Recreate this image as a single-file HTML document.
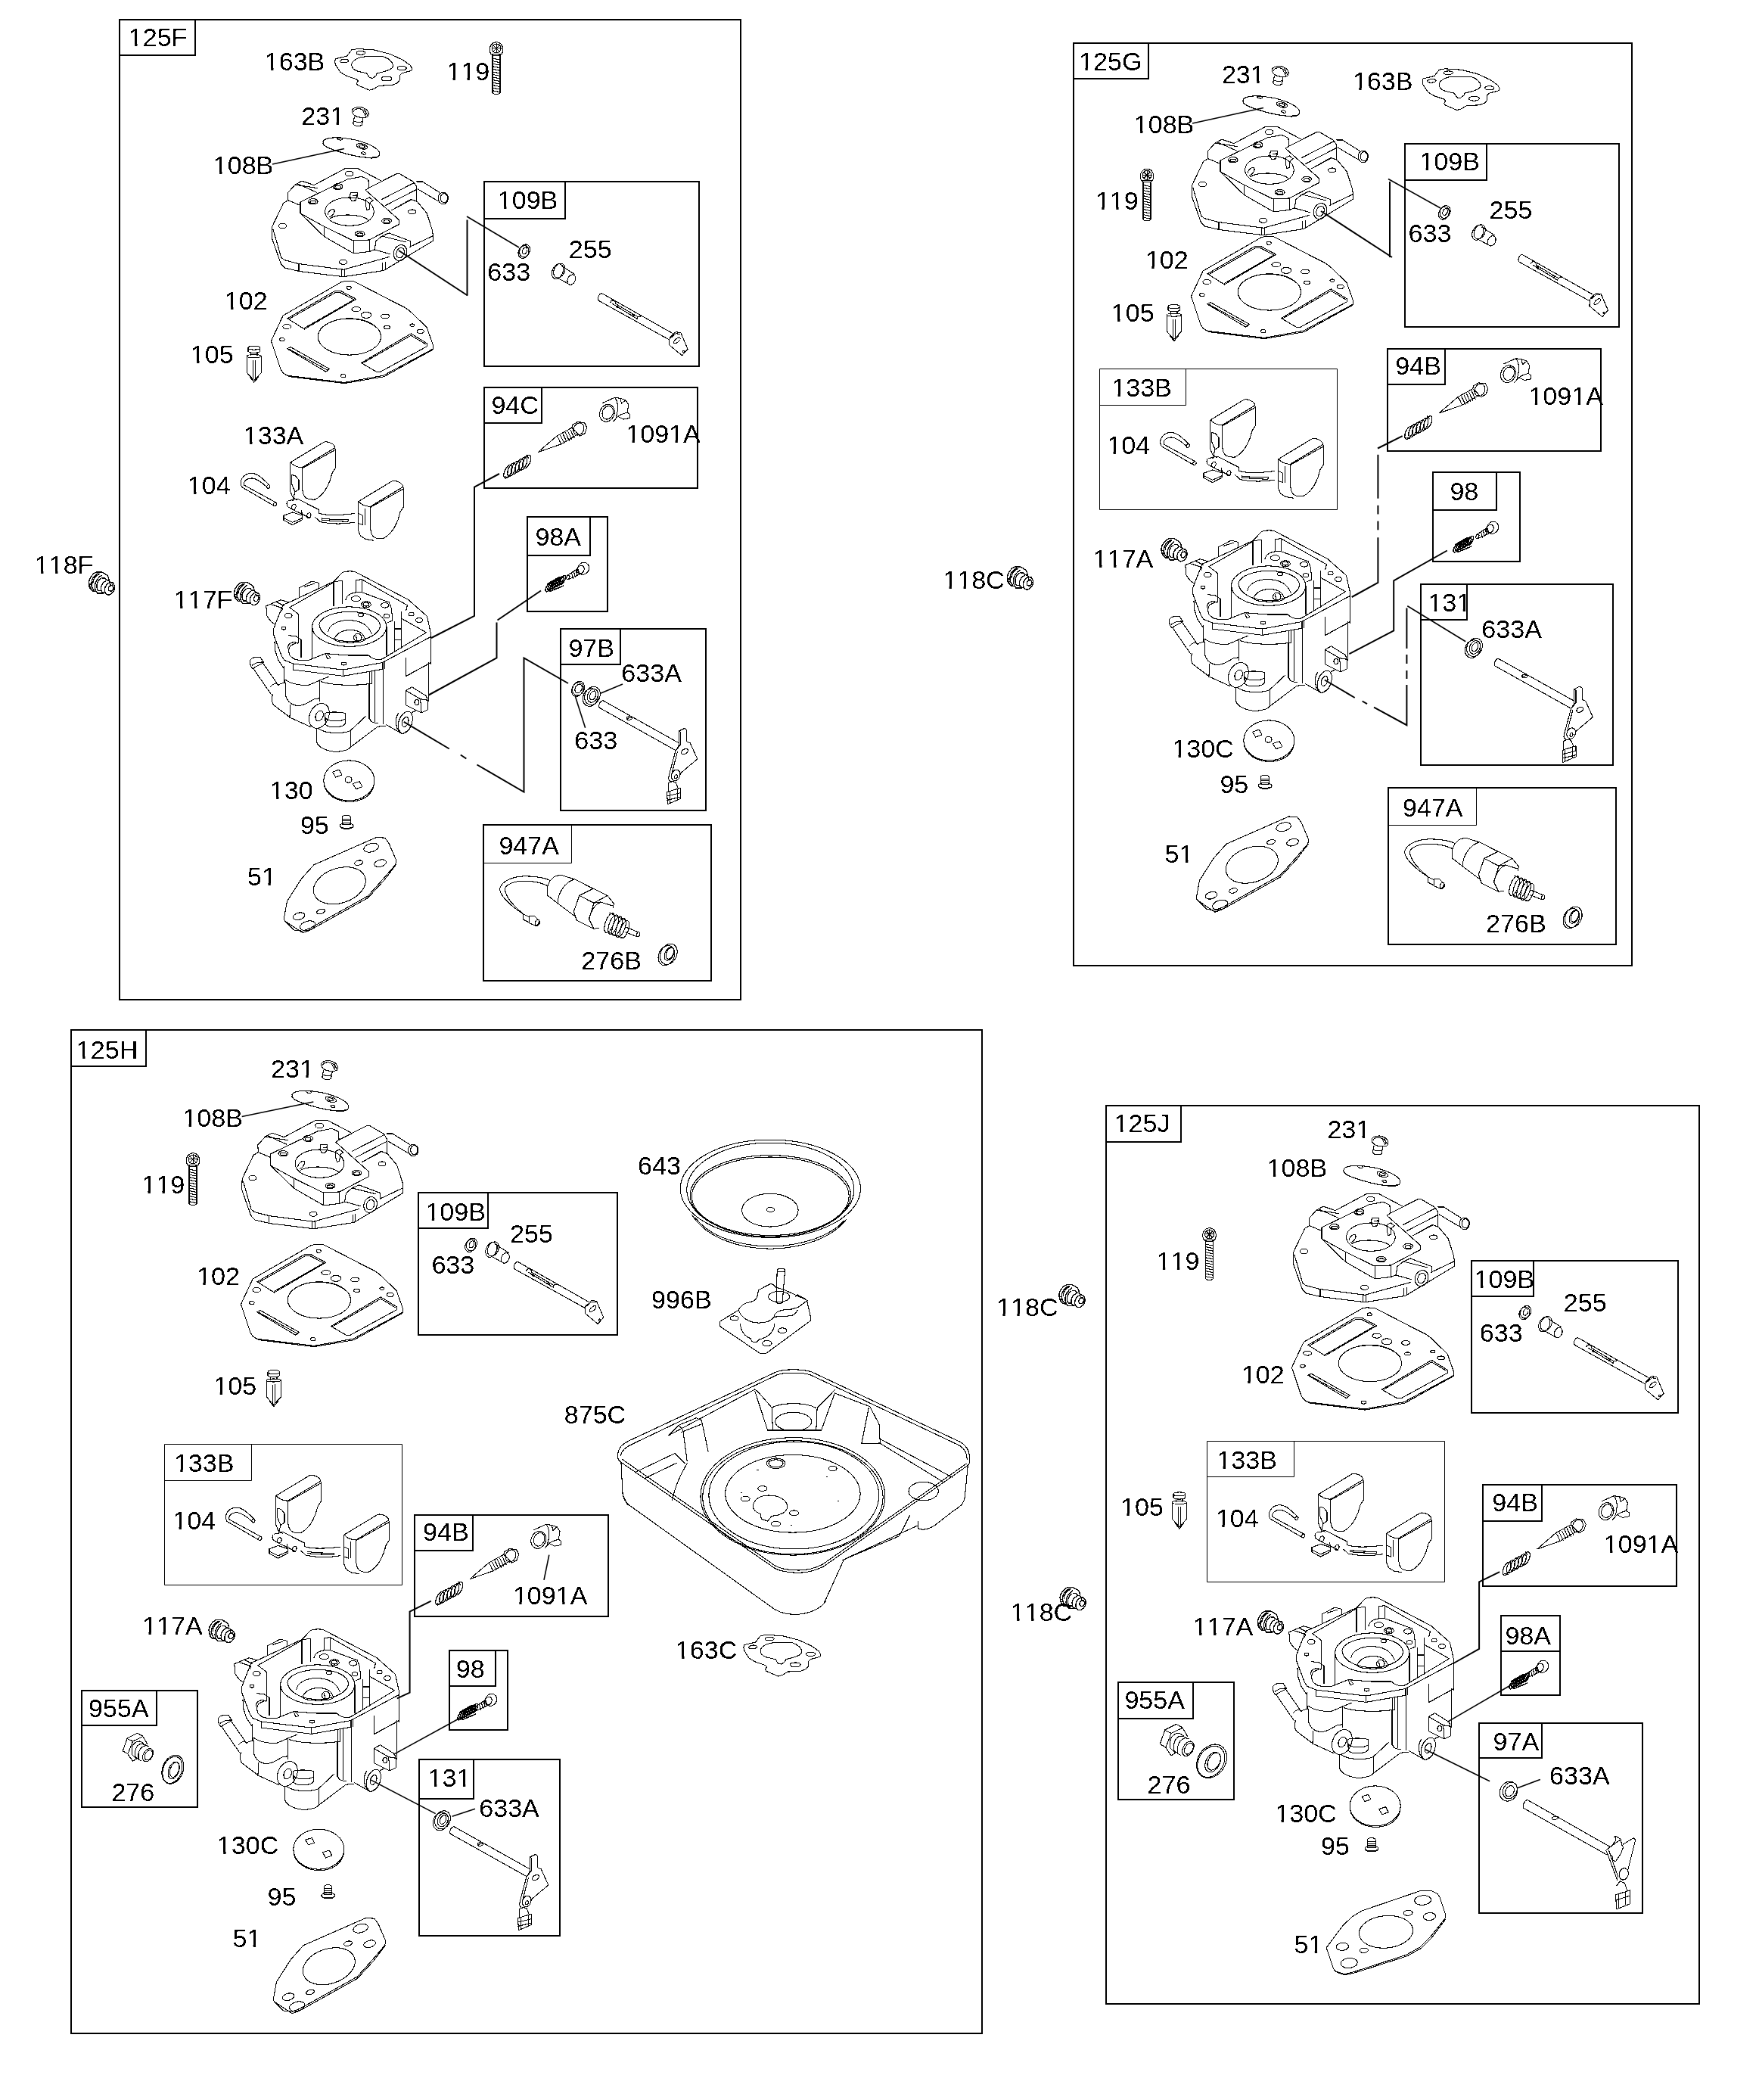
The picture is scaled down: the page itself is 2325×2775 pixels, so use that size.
<!DOCTYPE html><html><head><meta charset="utf-8"><style>html,body{margin:0;padding:0;background:#fff;}svg{display:block;}path,ellipse,circle,polyline,polygon{vector-effect:non-scaling-stroke;}text{font-family:"Liberation Sans",sans-serif;font-size:32.5px;fill:#000;font-kerning:none;}</style></head><body>
<svg width="2325" height="2775" viewBox="0 0 2325 2775">
<rect width="2325" height="2775" fill="#fff"/>
<defs>
<g id="ctop" transform="translate(350,180) scale(0.166583)"><path d="M58,718 L148,530 L185,508 L280,548"/><path d="M1005,588 L1160,500 L1210,520 L1285,610 L1330,748 L1335,790"/><path d="M58,718 L55,805 L128,1012 L160,1045 L275,1072 L625,1115 L945,1065 L1335,830 L1335,790"/><path d="M66,740 L130,962 L155,982 L270,1012 L625,1058 L985,958"/><path d="M1150,878 L1335,790"/><path d="M270,1012 L270,1072 M610,1058 L610,1115 M634,1058 L634,1112 M935,1005 L935,1065 M955,998 L955,1058"/><path d="M390,388 L640,255 L735,255 L920,352"/><path d="M282,522 L655,342 L770,320 L822,345 L826,410 L800,428 L1063,662 L1063,700 L830,822 L700,828 L470,716 L282,612 Z"/><path d="M282,612 L470,795 L470,716 M470,795 L705,930 L705,830 M705,930 L830,915 L830,822 M830,915 L870,900"/><path d="M478,598 C478,530 570,486 672,486 C780,486 866,530 866,598 C866,665 780,710 672,710 C570,710 478,665 478,598 Z"/><path d="M520,650 C570,625 620,622 680,625 C740,628 790,640 820,662"/><path d="M500,620 C505,590 530,575 550,580 C560,600 540,630 515,640"/><path d="M680,445 L735,448 L735,470 L720,510 L690,512 L675,490 Z M700,470 L730,468"/><path d="M800,500 L830,485 L860,510 L835,525 L830,580 L810,585 L800,550 Z"/><path d="M826,410 L1045,298 L1070,298 L1180,362 L1205,400 L1205,515"/><path d="M930,500 L1180,372 M960,548 L1200,425 M1005,588 L1160,505"/><path d="M1205,360 L1250,360 L1385,445 M1215,420 L1370,512"/><ellipse cx="1415" cy="492" rx="40" ry="46" transform="rotate(0 1415 492)"/><ellipse cx="1422" cy="490" rx="28" ry="36" transform="rotate(0 1422 490)"/><path d="M185,508 L182,450 L240,385 L295,355 L390,388 M240,385 L420,412 M262,378 L410,445"/><path d="M870,905 L882,832 L930,792 L985,768 L1155,832 L1155,882"/><path d="M930,792 L1120,840"/><ellipse cx="1075" cy="925" rx="52" ry="64" transform="rotate(20 1075 925)"/><ellipse cx="1075" cy="925" rx="30" ry="42" transform="rotate(20 1075 925)"/><path d="M995,935 L870,900"/><ellipse cx="670" cy="297" rx="32" ry="20" transform="rotate(0 670 297)"/><ellipse cx="580" cy="400" rx="38" ry="24" transform="rotate(0 580 400)"/><ellipse cx="580" cy="404" rx="24" ry="12" transform="rotate(0 580 404)"/><ellipse cx="383" cy="518" rx="38" ry="22" transform="rotate(0 383 518)"/><ellipse cx="383" cy="522" rx="24" ry="11" transform="rotate(0 383 522)"/><ellipse cx="967" cy="672" rx="38" ry="22" transform="rotate(0 967 672)"/><ellipse cx="967" cy="676" rx="24" ry="11" transform="rotate(0 967 676)"/><ellipse cx="755" cy="775" rx="38" ry="22" transform="rotate(0 755 775)"/><ellipse cx="755" cy="779" rx="24" ry="11" transform="rotate(0 755 779)"/><ellipse cx="140" cy="712" rx="30" ry="20" transform="rotate(0 140 712)"/><ellipse cx="1168" cy="600" rx="30" ry="18" transform="rotate(0 1168 600)"/><ellipse cx="622" cy="998" rx="30" ry="18" transform="rotate(0 622 998)"/></g>
<g id="p108" transform="translate(350,180) scale(0.166583)"><path d="M470,30 C520,0 620,10 720,30 C820,55 900,95 910,130 C915,165 880,180 820,172 C700,160 560,120 490,85 C460,70 455,45 470,30 Z"/><path d="M460,55 C470,85 520,100 600,125 C700,158 820,185 905,160"/><ellipse cx="595" cy="20" rx="20" ry="10" transform="rotate(10 595 20)"/><ellipse cx="770" cy="80" rx="45" ry="20" transform="rotate(15 770 80)"/><ellipse cx="770" cy="80" rx="25" ry="10" transform="rotate(15 770 80)"/><ellipse cx="785" cy="135" rx="18" ry="9" transform="rotate(15 785 135)"/></g>
<g id="g102" transform="translate(310,365) scale(0.166583)"><path d="M290,515 L385,312 L850,45 L885,38 L950,42 L1275,210 L1355,250 L1390,275 L1525,405 L1575,545 L1578,575 L1180,788 L870,843 L420,788 L388,770 L365,735 L300,540 Z"/><path d="M372,748 L400,780 L440,797 L870,850 L1185,797 L1578,580"/><path d="M420,335 L795,118 L845,118 L965,182 L555,420 Z"/><path d="M435,338 L800,130 L840,130 L948,186 L556,410"/><path d="M418,575 L445,562 L752,735 L725,758 Z M432,578 L738,745"/><path d="M1005,688 L1400,455 L1530,535 L1530,555 L1160,757 L1125,757 Z M1020,688 L1400,470 L1518,540"/><ellipse cx="912" cy="480" rx="250" ry="145" transform="rotate(0 912 480)"/><path d="M680,420 C750,350 850,335 920,338 C1010,340 1100,370 1150,430"/><ellipse cx="965" cy="262" rx="35" ry="18" transform="rotate(0 965 262)"/><ellipse cx="1045" cy="308" rx="40" ry="24" transform="rotate(0 1045 308)"/><ellipse cx="1195" cy="318" rx="32" ry="17" transform="rotate(0 1195 318)"/><ellipse cx="1210" cy="405" rx="24" ry="12" transform="rotate(0 1210 405)"/><ellipse cx="1410" cy="388" rx="18" ry="10" transform="rotate(0 1410 388)"/><ellipse cx="1475" cy="438" rx="28" ry="15" transform="rotate(0 1475 438)"/><ellipse cx="415" cy="400" rx="32" ry="18" transform="rotate(0 415 400)"/><ellipse cx="377" cy="502" rx="20" ry="12" transform="rotate(0 377 502)"/><ellipse cx="908" cy="92" rx="18" ry="12" transform="rotate(0 908 92)"/><ellipse cx="862" cy="790" rx="20" ry="12" transform="rotate(0 862 790)"/></g>
<g id="n105" transform="translate(310,365) scale(0.166583)"><ellipse cx="155" cy="568" rx="47" ry="15" transform="rotate(0 155 568)"/><path d="M108,568 L108,596 C120,612 190,612 202,596 L202,568"/><path d="M130,606 L130,628 M180,606 L180,628"/><ellipse cx="155" cy="634" rx="57" ry="12" transform="rotate(0 155 634)"/><path d="M98,634 L98,765 L155,828 L213,765 L213,634"/><path d="M145,670 L145,820 M165,670 L165,820 M122,800 L155,842 L190,800"/></g>
<g id="g163" transform="translate(430,50) scale(0.142126)"><path d="M88,222 L95,195 L200,170 L245,112 L300,102 L450,112 L600,150 L720,205 L790,255 L808,290 L800,305 L710,330 L690,350 L690,395 L670,420 L620,440 L500,445 L450,475 L410,487 L300,440 L290,425 L305,400 L290,385 L200,355 L140,320 L95,250 Z"/><path d="M245,255 C240,215 300,180 370,175 L540,175 C600,195 630,230 630,260 C625,290 590,305 480,330 L475,350 L440,375 L410,370 L395,345 L385,330 L300,310 C260,295 245,275 245,255 Z"/><ellipse cx="330" cy="140" rx="42" ry="16" transform="rotate(0 330 140)"/><ellipse cx="175" cy="215" rx="40" ry="16" transform="rotate(-5 175 215)"/><ellipse cx="712" cy="282" rx="42" ry="18" transform="rotate(0 712 282)"/><ellipse cx="570" cy="380" rx="48" ry="20" transform="rotate(0 570 380)"/></g>
<g id="s119" transform="translate(430,50) scale(0.142126)"><path d="M1540,150 C1515,110 1530,45 1590,40 C1650,42 1665,110 1640,150 C1620,170 1560,170 1540,150 Z"/><ellipse cx="1591" cy="98" rx="42" ry="42" transform="rotate(0 1591 98)"/><path d="M1591,56 L1591,140 M1549,98 L1633,98 M1561,68 L1621,128 M1621,68 L1561,128"/><path d="M1545,150 L1635,150"/><path d="M1555,165 L1555,512 C1570,528 1612,528 1625,512 L1625,165"/><path d="M1555,190 L1625,205 M1555,215 L1625,230 M1555,240 L1625,255 M1555,265 L1625,280 M1555,290 L1625,305 M1555,315 L1625,330 M1555,340 L1625,355 M1555,365 L1625,380 M1555,390 L1625,405 M1555,415 L1625,430 M1555,440 L1625,455 M1555,465 L1625,480 M1555,490 L1625,505"/></g>
<g id="s231" transform="translate(430,50) scale(0.142126)"><path d="M250,690 C240,655 290,640 330,645 C385,655 410,690 400,725 C390,745 340,745 300,735 C270,725 255,710 250,690 Z"/><path d="M265,685 C262,665 300,655 330,662 C370,672 385,700 378,715"/><path d="M345,670 L375,730 M365,665 L392,720"/><path d="M270,735 L258,795 C260,815 300,828 340,812 L352,745"/><path d="M262,770 C280,785 320,790 348,775"/></g>
<g id="w633" transform="translate(660,300) scale(0.166583)"><ellipse cx="202" cy="188" rx="40" ry="52" transform="rotate(25 202 188)"/><ellipse cx="192" cy="198" rx="40" ry="52" transform="rotate(25 192 198)"/><ellipse cx="202" cy="188" rx="18" ry="28" transform="rotate(25 202 188)"/></g>
<g id="b255" transform="translate(660,300) scale(0.166583)"><ellipse cx="462" cy="352" rx="42" ry="62" transform="rotate(25 462 352)"/><ellipse cx="476" cy="346" rx="42" ry="60" transform="rotate(25 476 346)"/><path d="M495,310 L598,375 M455,400 L555,455"/><ellipse cx="572" cy="418" rx="30" ry="42" transform="rotate(25 572 418)"/></g>
<g id="sh109" transform="translate(660,300) scale(0.166583)"><path d="M812,525 C790,530 775,570 790,585 L1350,895"/><path d="M812,525 L1372,842"/><path d="M882,598 C885,580 910,575 922,595 L925,610 L1060,690 L1098,712 L1132,706"/><path d="M900,610 L1095,730 L1098,712"/><ellipse cx="935" cy="632" rx="10" ry="6" transform="rotate(30 935 632)"/><ellipse cx="1060" cy="700" rx="10" ry="6" transform="rotate(30 1060 700)"/><path d="M1350,890 L1348,935 L1450,1020 L1495,968 L1440,840 L1400,832 L1355,875 Z"/><path d="M1362,878 L1400,845 L1432,848"/><ellipse cx="1410" cy="900" rx="32" ry="14" transform="rotate(-40 1410 900)"/><ellipse cx="1462" cy="988" rx="6" ry="8" transform="rotate(0 1462 988)"/></g>
<g id="spr94" transform="translate(650,515) scale(0.166583)" stroke-width="1.3"><ellipse cx="128" cy="650" rx="26" ry="56" transform="rotate(25 128 650)"/><ellipse cx="158" cy="634" rx="26" ry="56" transform="rotate(25 158 634)"/><ellipse cx="188" cy="618" rx="26" ry="56" transform="rotate(25 188 618)"/><ellipse cx="218" cy="602" rx="26" ry="56" transform="rotate(25 218 602)"/><ellipse cx="248" cy="586" rx="26" ry="56" transform="rotate(25 248 586)"/><ellipse cx="278" cy="570" rx="26" ry="56" transform="rotate(25 278 570)"/><path d="M110,690 L135,695 M275,520 L290,540"/></g>
<g id="ndl94" transform="translate(650,515) scale(0.166583)"><path d="M368,495 L515,368 L530,388 L550,432 Z"/><path d="M515,368 L635,302 M550,432 L685,352"/><path d="M545,365 L575,425 M565,352 L595,415 M585,342 L615,405 M605,332 L635,395 M625,320 L655,383"/><path d="M635,302 L640,280 L680,255 L735,262 L755,300 L740,345 L700,368 L685,352 L665,330 Z"/><ellipse cx="690" cy="312" rx="40" ry="50" transform="rotate(25 690 312)"/></g>
<g id="cap1091" transform="translate(650,515) scale(0.166583)"><ellipse cx="915" cy="185" rx="58" ry="70" transform="rotate(22 915 185)"/><ellipse cx="920" cy="182" rx="42" ry="54" transform="rotate(22 920 182)"/><path d="M880,105 L975,62 L1020,68 L1062,82 L1085,118 L1075,180 L1095,195 L1095,225 L1045,235 L1000,212 L965,252"/><path d="M1020,68 L1030,110 L1062,82 M975,62 C1000,90 1010,150 985,220 M1000,212 L1030,195 L1075,180"/></g>
<g id="flt" transform="translate(300,570) scale(0.166583)"><path d="M505,245 L770,85 C800,78 850,95 858,130 L600,285 C570,290 520,270 505,245 Z"/><path d="M600,292 L862,145"/><path d="M600,285 L600,470 C605,530 640,545 700,540 C780,500 820,400 835,330 L862,290 L862,140"/><path d="M502,248 L500,470 L520,520 L555,545"/><path d="M1045,555 L1310,395 C1340,388 1390,405 1398,440 L1140,595 C1110,600 1060,580 1045,555 Z"/><path d="M1140,602 L1402,455"/><path d="M1140,595 L1140,780 C1145,840 1180,858 1240,850 C1320,810 1360,710 1375,640 L1402,600 L1402,450"/><path d="M1042,558 L1040,780 L1060,830 L1100,855 L1160,865"/><path d="M1098,612 L1098,740 M1040,650 L1078,668 L1078,742 L1042,730"/><path d="M515,345 L545,355 L570,385 L570,460 L540,480 L515,420 Z M540,480 L522,550"/><path d="M478,558 C470,575 475,600 495,605 L520,620 L660,688 M490,550 L560,535 L730,622 L732,648"/><ellipse cx="530" cy="600" rx="16" ry="22" transform="rotate(20 530 600)"/><ellipse cx="650" cy="668" rx="16" ry="22" transform="rotate(20 650 668)"/><path d="M590,630 L600,665"/><path d="M450,668 L520,642 L600,668 L600,700 L520,742 L450,705 Z M450,688 L520,722 L598,688"/><path d="M732,650 C800,672 900,666 1010,652"/><path d="M700,682 L740,718 C850,742 950,732 1010,722"/><path d="M752,690 C820,700 900,702 962,700 C970,710 960,715 950,716 C880,712 800,710 752,702"/></g>
<g id="pin104" transform="translate(300,570) scale(0.166583)"><path d="M118,442 C95,400 120,340 190,332 C232,332 262,352 335,425"/><path d="M138,428 C128,400 152,372 200,372 C232,374 262,392 320,445"/><path d="M118,442 L372,590 M138,428 L390,565"/><ellipse cx="328" cy="438" rx="12" ry="15" transform="rotate(40 328 438)"/><ellipse cx="381" cy="578" rx="12" ry="15" transform="rotate(40 381 578)"/></g>
<g id="cbt" transform="translate(320,745) scale(0.159185)"><path d="M258,548 L340,340 L395,318 L760,148 L830,75 C850,60 925,58 945,70 L1380,298 L1535,435 L1568,580 L1568,830"/><path d="M258,548 L262,590 L330,770 L352,800 L425,830 L840,880 L1165,820 L1568,605"/><path d="M395,362 L755,158 M995,130 L1372,345 L1362,385"/><path d="M1325,455 L1530,570 L1165,790 C1140,800 1090,800 1050,760 L880,760 L690,745 L640,765 L555,800 L470,800 L430,790 L395,760 L385,720 L400,680 L445,660 L470,655"/><path d="M395,362 L470,420 L470,655"/><ellipse cx="890" cy="522" rx="308" ry="165" transform="rotate(0 890 522)"/><path d="M640,505 C650,440 760,400 890,398 C1030,398 1140,440 1148,515 C1140,580 1040,640 900,645 C760,645 650,590 640,505 Z"/><path d="M715,565 C720,510 790,470 880,468 C980,470 1050,510 1075,580"/><path d="M765,628 C780,575 840,550 895,550 C960,550 1010,575 1022,630 C1000,660 800,665 765,628 Z"/><ellipse cx="960" cy="612" rx="33" ry="33" transform="rotate(0 960 612)"/><path d="M945,595 L955,640"/><ellipse cx="985" cy="425" rx="22" ry="14" transform="rotate(0 985 425)"/><path d="M580,520 L580,790 M1200,520 L1200,762"/><path d="M860,300 C870,250 920,235 990,235 L1220,320 L1240,370 L1250,470 L1205,490"/><ellipse cx="945" cy="290" rx="38" ry="22" transform="rotate(0 945 290)"/><ellipse cx="1030" cy="338" rx="40" ry="25" transform="rotate(0 1030 338)"/><ellipse cx="1030" cy="338" rx="25" ry="14" transform="rotate(0 1030 338)"/><ellipse cx="1185" cy="345" rx="32" ry="20" transform="rotate(0 1185 345)"/><ellipse cx="1200" cy="435" rx="25" ry="16" transform="rotate(0 1200 435)"/><ellipse cx="1405" cy="418" rx="22" ry="14" transform="rotate(0 1405 418)"/><ellipse cx="1470" cy="468" rx="28" ry="18" transform="rotate(0 1470 468)"/><ellipse cx="385" cy="430" rx="30" ry="20" transform="rotate(0 385 430)"/><ellipse cx="345" cy="535" rx="18" ry="12" transform="rotate(0 345 535)"/><ellipse cx="845" cy="830" rx="22" ry="12" transform="rotate(0 845 830)"/><path d="M760,150 L760,350 M830,140 L830,330 M945,135 L945,230 M995,130 L995,230 M760,150 L830,140 M945,135 L995,130"/><path d="M200,350 L320,300 L390,320 M200,350 L205,430 L240,480 L270,500 M250,340 L340,370 L330,390 M290,320 L350,350"/><path d="M475,200 L580,145 L640,160 L640,200 M475,200 L475,272 M520,190 L600,165"/><path d="M1320,400 L1320,700 M1265,540 L1320,540 M1265,630 L1320,630 M1265,480 L1265,730"/><path d="M1360,780 L1360,935 L1565,820"/><path d="M385,595 L445,600 L490,630 L490,780 M380,700 C380,660 420,640 460,660"/><path d="M270,650 L275,720 L300,800 L350,875"/><path d="M425,830 L425,880 M840,880 L840,930 M1165,820 L1165,875 M1182,815 L1182,870"/><path d="M425,880 L840,932 L1165,875"/><path d="M690,745 L710,790 L735,780 L700,745"/></g>
<g id="cbb" transform="translate(320,860) scale(0.159185)"><path d="M65,85 C70,60 110,48 150,52 L180,95 C170,110 120,120 90,150 C75,140 66,110 65,85 Z"/><path d="M85,120 C110,100 150,92 178,95"/><path d="M95,150 L240,360 M175,105 L300,285 M235,300 C250,280 270,270 290,270"/><path d="M255,360 C240,400 250,440 262,450 L400,555 L570,632"/><path d="M300,285 C330,265 355,265 360,270 L360,370 C380,430 420,455 470,455 C520,455 560,420 600,400 L640,395"/><path d="M350,130 L352,270 M360,240 C400,275 500,292 560,282 L645,245 L720,215"/><path d="M400,450 L395,555"/><path d="M645,245 L645,415 M655,255 C750,290 950,292 1075,272 L1078,170"/><path d="M1050,280 L1050,565"/><ellipse cx="640" cy="540" rx="78" ry="108" transform="rotate(25 640 540)"/><ellipse cx="642" cy="540" rx="30" ry="45" transform="rotate(25 642 540)"/><path d="M690,520 C700,505 820,505 860,520 L860,600 C840,640 720,645 692,610 Z M692,560 C720,590 830,592 860,560"/><path d="M620,648 L620,760 C640,810 720,838 790,838 C850,832 890,818 900,800 L900,660"/><path d="M640,650 C700,690 850,690 900,662 L1030,540"/><path d="M900,800 L1125,630 L1195,622"/><path d="M1060,170 L1060,565 C1065,590 1100,600 1130,600 M1100,170 L1100,590 M1170,100 L1170,605"/><path d="M1565,0 L1565,100 L1360,210 L1360,60 M1550,100 L1550,420"/><path d="M1360,330 L1410,300 L1530,375 L1540,410 L1540,490 L1490,515 L1360,450 Z M1360,330 L1480,400 L1540,410 M1480,400 L1490,515"/><ellipse cx="1450" cy="428" rx="18" ry="22" transform="rotate(0 1450 428)"/><ellipse cx="1355" cy="595" rx="55" ry="95" transform="rotate(20 1355 595)"/><ellipse cx="1355" cy="590" rx="25" ry="42" transform="rotate(20 1355 590)"/><path d="M1300,515 C1280,540 1270,580 1285,640 L1330,690 L1380,660"/><path d="M1195,612 L1330,690 M1445,495 L1410,512"/></g>
<g id="d130" transform="translate(300,720) scale(0.250125)"><ellipse cx="645" cy="1245" rx="134" ry="106" transform="rotate(0 645 1245)"/><path d="M512,1262 C520,1320 580,1356 650,1357 C720,1355 770,1320 778,1262"/><path d="M558,1200 L592,1188 L608,1215 L575,1228 Z M665,1262 L700,1250 L715,1278 L682,1290 Z"/><ellipse cx="642" cy="1240" rx="18" ry="16" transform="rotate(0 642 1240)"/></g>
<g id="d130c" transform="translate(300,720) scale(0.250125)"><ellipse cx="645" cy="1245" rx="134" ry="106" transform="rotate(0 645 1245)"/><path d="M512,1262 C520,1320 580,1356 650,1357 C720,1355 770,1320 778,1262"/><path d="M575,1195 L608,1185 L622,1210 L590,1222 Z M665,1262 L700,1250 L715,1278 L682,1290 Z"/></g>
<g id="s95" transform="translate(300,720) scale(0.250125)"><path d="M610,1438 C612,1425 650,1425 652,1438 L652,1478 L610,1478 Z"/><path d="M612,1448 L650,1448 M612,1458 L650,1458 M612,1468 L650,1468"/><ellipse cx="632" cy="1485" rx="36" ry="16" transform="rotate(0 632 1485)"/><path d="M596,1485 C598,1500 666,1500 668,1485"/></g>
<g id="g51" transform="translate(300,720) scale(0.250125)"><path d="M300,1980 L318,1882 L395,1762 L460,1690 L790,1545 L835,1548 L855,1575 L895,1668 L890,1690 L830,1760 L745,1855 L440,2025 L400,2040 L355,2035 Z"/><path d="M318,1995 L400,2050 L440,2035 L745,1865 L832,1770 L893,1690"/><ellipse cx="595" cy="1800" rx="142" ry="92" transform="rotate(-18 595 1800)"/><ellipse cx="762" cy="1600" rx="40" ry="22" transform="rotate(-15 762 1600)"/><ellipse cx="810" cy="1682" rx="32" ry="18" transform="rotate(-15 810 1682)"/><ellipse cx="696" cy="1680" rx="22" ry="12" transform="rotate(-15 696 1680)"/><ellipse cx="380" cy="1962" rx="32" ry="18" transform="rotate(-15 380 1962)"/><ellipse cx="496" cy="1937" rx="22" ry="12" transform="rotate(-15 496 1937)"/><ellipse cx="427" cy="2012" rx="42" ry="24" transform="rotate(-15 427 2012)"/></g>
<g id="plug" transform="translate(270,2135) scale(0.0284252)" stroke-width="1.4"><path d="M570,185 L800,185 L940,260 L1050,330 L1110,400 L1140,520 L1140,590"/><path d="M570,185 C400,250 240,450 215,650 C212,800 250,950 400,1070 L520,1080"/><path d="M640,260 C480,330 340,500 335,700 C332,850 380,960 470,1040"/><path d="M700,270 C560,360 400,520 400,700"/><path d="M800,340 C650,450 520,600 500,800 C485,950 550,1100 620,1180 L770,1180 L880,1170"/><path d="M760,500 C650,580 580,700 580,850 C580,950 600,1000 650,1050 L780,1050"/><path d="M830,470 L970,470 L1030,560 L1150,590 L1230,660 L1330,680"/><path d="M1000,600 C900,650 800,750 780,900 C770,1000 790,1080 820,1120 L940,1170"/><ellipse cx="1180" cy="960" rx="220" ry="300" transform="rotate(25 1180 960)"/><ellipse cx="1240" cy="940" rx="110" ry="140" transform="rotate(25 1240 940)"/><path d="M1210,740 L1240,820 L1320,790"/><path d="M250,750 L330,760 M230,860 L320,870 M260,940 L320,990"/></g>
<g id="spr98" transform="translate(700,735) scale(0.0568505)" stroke-width="1.6"><ellipse cx="440" cy="720" rx="45" ry="115" transform="rotate(30 440 720)"/><ellipse cx="495" cy="692" rx="45" ry="115" transform="rotate(30 495 692)"/><ellipse cx="550" cy="664" rx="45" ry="115" transform="rotate(30 550 664)"/><ellipse cx="605" cy="636" rx="45" ry="115" transform="rotate(30 605 636)"/><ellipse cx="660" cy="608" rx="45" ry="115" transform="rotate(30 660 608)"/><ellipse cx="715" cy="580" rx="45" ry="115" transform="rotate(30 715 580)"/><ellipse cx="770" cy="552" rx="45" ry="115" transform="rotate(30 770 552)"/><path d="M420,640 L700,480 M470,820 L780,690"/></g>
<g id="scr98" transform="translate(700,735) scale(0.0568505)"><ellipse cx="1250" cy="285" rx="130" ry="145" transform="rotate(30 1250 285)"/><ellipse cx="1185" cy="310" rx="80" ry="100" transform="rotate(30 1185 310)"/><path d="M870,450 L1120,290 M900,540 L1195,405"/><ellipse cx="893" cy="490" rx="32" ry="50" transform="rotate(30 893 490)"/><path d="M980,400 L1010,510 M1030,370 L1060,480 M1080,340 L1110,450 M1130,310 L1160,420"/></g>
<g id="w633s" transform="translate(745,890) scale(0.108015)"><ellipse cx="182" cy="182" rx="70" ry="90" transform="rotate(25 182 182)"/><ellipse cx="170" cy="195" rx="68" ry="88" transform="rotate(25 170 195)"/><ellipse cx="182" cy="185" rx="40" ry="58" transform="rotate(25 182 185)"/></g>
<g id="w633a" transform="translate(745,890) scale(0.108015)"><ellipse cx="352" cy="272" rx="92" ry="115" transform="rotate(25 352 272)"/><ellipse cx="330" cy="292" rx="92" ry="112" transform="rotate(25 330 292)"/><ellipse cx="355" cy="272" rx="62" ry="85" transform="rotate(25 355 272)"/><ellipse cx="358" cy="268" rx="35" ry="58" transform="rotate(25 358 268)"/></g>
<g id="sh97" transform="translate(745,890) scale(0.108015)"><path d="M480,330 L1410,850 M440,420 L1370,940 M480,330 C440,340 420,400 440,420"/><ellipse cx="805" cy="545" rx="35" ry="22" transform="rotate(-10 805 545)"/><path d="M775,550 L835,535"/><path d="M1370,945 L1410,880 L1410,705 L1478,670 L1505,688 L1505,832 L1548,850 L1637,1045 L1425,1225"/><path d="M1410,705 L1430,715 L1430,870 L1370,945"/><path d="M1370,945 L1290,1245 L1282,1290 L1305,1320 M1392,960 L1320,1240"/><ellipse cx="1372" cy="1245" rx="52" ry="68" transform="rotate(20 1372 1245)"/><ellipse cx="1375" cy="1262" rx="18" ry="24" transform="rotate(20 1375 1262)"/><ellipse cx="1480" cy="955" rx="45" ry="28" transform="rotate(-30 1480 955)"/><path d="M1280,1340 L1330,1320 L1370,1330 L1400,1400 M1265,1450 L1430,1400 L1432,1530 L1272,1600 Z"/><path d="M1300,1440 L1300,1590 M1390,1410 L1390,1545 M1265,1500 L1430,1460 M1268,1550 L1430,1510 M1280,1340 L1280,1450"/></g>
<g id="sol" transform="translate(650,1145) scale(0.142126)"><path d="M545,130 C480,100 400,90 300,90 C200,95 100,130 75,200 C70,260 150,350 290,440"/><path d="M520,180 C460,150 380,135 300,135 C200,135 130,170 122,210 C130,290 200,360 300,450"/><path d="M290,440 L345,468 L352,522 L292,492 Z M350,462 L395,458 L445,510 L420,555 L345,525"/><ellipse cx="425" cy="522" rx="20" ry="28" transform="rotate(20 425 522)"/><path d="M545,130 L580,95 L640,78 L780,122 L940,205"/><path d="M545,130 C520,160 512,210 520,270 L612,342 L772,462"/><path d="M760,122 C680,150 610,250 615,345"/><path d="M815,270 L945,205 L1075,270 L1135,345 L1130,380 M815,270 L950,340 L1075,270 M815,270 L762,420 L790,500 L950,580 L1000,570 M950,340 L905,490 L950,580"/><path d="M950,340 L1010,330 L1120,365 M905,490 C915,420 960,350 1010,335"/><ellipse cx="1095" cy="525" rx="38" ry="95" transform="rotate(20 1095 525)"/><ellipse cx="1130" cy="540" rx="38" ry="95" transform="rotate(20 1130 540)"/><ellipse cx="1165" cy="555" rx="38" ry="95" transform="rotate(20 1165 555)"/><ellipse cx="1200" cy="570" rx="38" ry="92" transform="rotate(20 1200 570)"/><ellipse cx="1235" cy="585" rx="36" ry="85" transform="rotate(20 1235 585)"/><path d="M1095,430 L1240,500 M1080,610 L1225,665"/><path d="M1245,562 L1365,612 M1250,612 L1350,652"/><ellipse cx="1362" cy="632" rx="15" ry="22" transform="rotate(20 1362 632)"/></g>
<g id="w276b" transform="translate(650,1145) scale(0.142126)"><ellipse cx="1645" cy="815" rx="75" ry="100" transform="rotate(25 1645 815)"/><ellipse cx="1625" cy="828" rx="72" ry="96" transform="rotate(25 1625 828)"/><ellipse cx="1650" cy="812" rx="40" ry="65" transform="rotate(25 1650 812)"/><ellipse cx="1656" cy="808" rx="32" ry="55" transform="rotate(25 1656 808)"/></g>
<g id="dish" transform="translate(890,1495) scale(0.14782)"><ellipse cx="868" cy="512" rx="806" ry="437" transform="rotate(0 868 512)"/><ellipse cx="868" cy="522" rx="748" ry="420" transform="rotate(0 868 522)"/><ellipse cx="868" cy="572" rx="718" ry="358" transform="rotate(0 868 572)"/><ellipse cx="868" cy="580" rx="703" ry="350" transform="rotate(0 868 580)"/><ellipse cx="865" cy="705" rx="252" ry="148" transform="rotate(0 865 705)"/><ellipse cx="868" cy="700" rx="35" ry="20" transform="rotate(0 868 700)"/><path d="M165,745 C300,960 600,1048 868,1050 C1150,1048 1420,950 1545,790"/><path d="M195,770 C330,950 600,1025 868,1028 C1140,1025 1400,940 1525,800"/></g>
<g id="dia996" transform="translate(890,1495) scale(0.14782)"><ellipse cx="963" cy="1242" rx="35" ry="15" transform="rotate(0 963 1242)"/><path d="M928,1245 L920,1530 M998,1245 L975,1530 M920,1530 C930,1540 965,1540 975,1530"/><path d="M415,1700 L580,1600 C600,1560 640,1530 680,1528 C725,1520 755,1500 760,1420 L870,1362 L895,1372 L918,1395 L988,1415 L1110,1470 L1195,1510 L1200,1540 L1230,1670 L1230,1690 L830,1985 L780,1988 L420,1745 Z"/><ellipse cx="545" cy="1670" rx="38" ry="20" transform="rotate(0 545 1670)"/><ellipse cx="975" cy="1780" rx="38" ry="22" transform="rotate(0 975 1780)"/><ellipse cx="838" cy="1895" rx="42" ry="25" transform="rotate(0 838 1895)"/><path d="M585,1600 C600,1660 680,1715 770,1712 C850,1710 900,1680 905,1640"/><path d="M600,1720 C600,1790 650,1840 690,1850 C700,1890 740,1900 770,1860 C850,1840 900,1790 905,1720"/><ellipse cx="945" cy="1478" rx="95" ry="48" transform="rotate(0 945 1478)"/><path d="M905,1640 C930,1600 1000,1590 1060,1590 L1120,1570 L1200,1510"/><path d="M900,1660 C960,1650 1020,1660 1080,1640 L1110,1600"/><path d="M1090,1480 L1110,1460 L1190,1505"/></g>
<g id="base875" transform="translate(810,1800) scale(0.272851)"><path d="M25,440 C30,410 50,395 80,380 L790,48 C830,32 920,32 965,48 L1680,385 C1710,400 1730,430 1728,465"/><path d="M38,452 C42,428 62,412 92,398 L795,62 C830,48 918,48 958,62 L1672,400 C1700,414 1716,440 1716,470"/><path d="M25,440 C20,460 25,475 40,485 L780,995 C800,1010 850,1020 900,1020 C950,1020 990,1005 1020,990 L1720,500 C1730,490 1730,475 1728,465"/><path d="M45,470 L785,985 C810,1000 850,1008 900,1008 C945,1008 985,995 1015,980 L1712,492"/><path d="M40,485 L48,640 C55,670 70,690 90,700 L760,1180 C790,1205 830,1222 880,1222 C930,1222 990,1205 1022,1170 L1120,955 L1475,792"/><path d="M1720,500 L1705,655 C1700,690 1680,700 1650,720 L1560,790 C1530,810 1500,815 1478,805 L1478,770"/><path d="M55,655 L70,690 M1022,1170 L1030,1160 M1110,960 L1388,842 L1440,740"/><path d="M115,530 L300,442 L350,490 M150,565 L310,488 M1300,375 L1645,558 M1290,390 L1600,580"/><path d="M270,355 L688,132 L700,140 L770,220 L775,330 L750,330 L688,140 M1075,135 L990,222 L985,330 L1010,330 L1075,150 L1245,215 L1290,300 L1295,395 L1205,395 L1240,220"/><path d="M770,220 C820,195 930,192 985,222 M760,330 L1010,330"/><ellipse cx="875" cy="288" rx="88" ry="45" transform="rotate(0 875 288)"/><path d="M270,355 L320,305 L405,270 L430,282 L462,432 M320,305 L340,330 L360,480 M330,340 L430,300"/><ellipse cx="872" cy="650" rx="447" ry="285" transform="rotate(0 872 650)"/><ellipse cx="872" cy="655" rx="437" ry="275" transform="rotate(0 872 655)"/><ellipse cx="877" cy="645" rx="412" ry="260" transform="rotate(0 877 645)"/><ellipse cx="872" cy="637" rx="327" ry="188" transform="rotate(0 872 637)"/><path d="M288,670 C300,600 330,540 360,490"/><ellipse cx="790" cy="490" rx="45" ry="25" transform="rotate(0 790 490)"/><ellipse cx="790" cy="490" rx="35" ry="18" transform="rotate(0 790 490)"/><ellipse cx="1065" cy="515" rx="20" ry="12" transform="rotate(0 1065 515)"/><ellipse cx="725" cy="612" rx="22" ry="12" transform="rotate(0 725 612)"/><ellipse cx="642" cy="662" rx="22" ry="12" transform="rotate(0 642 662)"/><ellipse cx="878" cy="730" rx="22" ry="12" transform="rotate(0 878 730)"/><ellipse cx="790" cy="783" rx="22" ry="12" transform="rotate(0 790 783)"/><path d="M680,700 C680,660 720,645 755,645 C810,645 845,670 845,700 C845,730 800,745 770,745 L750,770 L720,760 L715,735 C690,725 680,715 680,700 Z"/><ellipse cx="1505" cy="625" rx="72" ry="45" transform="rotate(0 1505 625)"/><path d="M700,522 l4,0 M1035,555 l4,0 M620,632 l4,0 M1090,672 l4,0 M862,790 l4,0"/></g>
<g id="g163c" transform="translate(430,50) scale(0.142126)"><path d="M88,222 L95,195 L200,170 L245,112 L300,102 L450,112 L600,150 L720,205 L790,255 L808,290 L800,305 L710,330 L690,350 L690,395 L670,420 L620,440 L500,445 L450,475 L410,487 L300,440 L290,425 L305,400 L290,385 L200,355 L140,320 L95,250 Z"/><path d="M245,255 C240,215 300,180 370,175 L540,175 C600,195 630,230 630,260 C625,290 590,305 480,330 L475,350 L440,375 L410,370 L395,345 L385,330 L300,310 C260,295 245,275 245,255 Z"/><ellipse cx="330" cy="140" rx="42" ry="16" transform="rotate(0 330 140)"/><ellipse cx="175" cy="215" rx="40" ry="16" transform="rotate(-5 175 215)"/><ellipse cx="712" cy="282" rx="42" ry="18" transform="rotate(0 712 282)"/><ellipse cx="570" cy="380" rx="48" ry="20" transform="rotate(0 570 380)"/></g>
<g id="hexplug" transform="translate(150,2280) scale(0.0568505)"><path d="M215,595 L320,300 L555,180 L680,250 L785,430 M215,595 L330,660 L450,835 L545,770"/><path d="M320,310 L450,370 L680,260 M450,370 L340,650"/><path d="M430,520 C450,420 540,360 620,370 L700,420 M430,520 L430,680 L480,730 L540,770"/><path d="M500,620 C520,500 580,430 660,430 L740,450 M500,620 L500,720 L560,770"/><path d="M580,660 C600,560 660,490 740,470 L820,480 M580,660 L580,790 L640,820"/><ellipse cx="800" cy="690" rx="105" ry="165" transform="rotate(30 800 690)"/><ellipse cx="815" cy="690" rx="80" ry="125" transform="rotate(30 815 690)"/></g>
<g id="w276" transform="translate(150,2280) scale(0.0568505)"><ellipse cx="1380" cy="1025" rx="240" ry="345" transform="rotate(20 1380 1025)"/><ellipse cx="1370" cy="1035" rx="215" ry="320" transform="rotate(20 1370 1035)"/><ellipse cx="1400" cy="1045" rx="120" ry="205" transform="rotate(20 1400 1045)"/><ellipse cx="1420" cy="1030" rx="100" ry="180" transform="rotate(20 1420 1030)"/></g>
<g id="sh97a" transform="translate(1960,2320) scale(0.119389)"><path d="M495,490 L1410,1010 M450,580 L1370,1095 M495,490 C460,495 440,540 450,580"/><ellipse cx="800" cy="690" rx="35" ry="18" transform="rotate(-15 800 690)"/><path d="M1455,900 L1470,890 L1530,925 L1535,985 L1555,1010 L1530,1080 L1470,1170 L1440,1160 L1430,1100"/><path d="M1470,890 L1470,940 L1420,1010 M1360,1050 L1410,1010 L1530,925"/><path d="M1555,980 L1670,910 L1690,930 L1605,1270 M1370,1060 L1490,1380 M1395,1050 L1500,1350"/><ellipse cx="1560" cy="1310" rx="50" ry="65" transform="rotate(15 1560 1310)"/><path d="M1480,1440 L1520,1390 L1570,1410 L1600,1500 M1470,1540 L1630,1490 L1630,1640 L1480,1700 Z M1500,1530 L1500,1690 M1580,1500 L1580,1650 M1470,1600 L1630,1550"/></g>
<g id="w633j" transform="translate(1960,2320) scale(0.119389)"><ellipse cx="285" cy="395" rx="95" ry="112" transform="rotate(28 285 395)"/><ellipse cx="300" cy="385" rx="75" ry="95" transform="rotate(28 300 385)"/><ellipse cx="298" cy="392" rx="45" ry="62" transform="rotate(28 298 392)"/></g>
<g id="g51j" transform="translate(1700,2480) scale(0.125078)"><path d="M425,750 L600,515 L700,420 L800,360 L1420,148 L1530,145 L1600,180 L1625,220 L1685,400 L1680,440 L1520,640 L1420,740 L1270,825 L730,1000 L620,1030 L530,1000 L500,970 Z"/><path d="M505,985 L540,1012 L620,1038 L735,1012 L1280,837 L1432,752 L1532,652 L1682,452"/><ellipse cx="1055" cy="582" rx="285" ry="170" transform="rotate(-5 1055 582)"/><ellipse cx="1445" cy="248" rx="88" ry="50" transform="rotate(-5 1445 248)"/><ellipse cx="1515" cy="420" rx="65" ry="40" transform="rotate(-5 1515 420)"/><ellipse cx="1288" cy="382" rx="48" ry="28" transform="rotate(-5 1288 382)"/><ellipse cx="595" cy="738" rx="65" ry="40" transform="rotate(-5 595 738)"/><ellipse cx="822" cy="778" rx="45" ry="25" transform="rotate(-5 822 778)"/><ellipse cx="665" cy="912" rx="88" ry="52" transform="rotate(-5 665 912)"/></g>
</defs>
<g fill="none" stroke="#000" stroke-width="1.1" stroke-linejoin="round" stroke-linecap="round" shape-rendering="crispEdges">
<use href="#ctop" x="0" y="0"/>
<use href="#p108" x="0" y="0"/>
<use href="#g102" x="0" y="0"/>
<use href="#n105" x="0" y="0"/>
<use href="#g163" x="0" y="0"/>
<use href="#s119" x="0" y="0"/>
<use href="#s231" x="0" y="0"/>
<use href="#w633" x="0" y="0"/>
<use href="#b255" x="0" y="0"/>
<use href="#sh109" x="0" y="0"/>
<use href="#spr94" x="0" y="0"/>
<use href="#ndl94" x="0" y="0"/>
<use href="#cap1091" x="0" y="0"/>
<use href="#flt" x="0" y="0"/>
<use href="#pin104" x="0" y="0"/>
<use href="#cbt" x="0" y="0"/>
<use href="#cbb" x="0" y="0"/>
<use href="#d130" x="0" y="0"/>
<use href="#s95" x="0" y="0"/>
<use href="#g51" x="0" y="0"/>
<use href="#plug" x="-158.6" y="-1384.4"/>
<use href="#plug" x="33.4" y="-1370.9"/>
<use href="#spr98" x="0" y="0"/>
<use href="#scr98" x="0" y="0"/>
<use href="#w633s" x="0" y="0"/>
<use href="#w633a" x="0" y="0"/>
<use href="#sh97" x="0" y="0"/>
<use href="#sol" x="0" y="0"/>
<use href="#w276b" x="0" y="0"/>
<use href="#ctop" x="1216" y="-55"/>
<use href="#p108" x="1216" y="-55"/>
<use href="#s231" x="1216" y="-54"/>
<use href="#g102" x="1216" y="-59"/>
<use href="#n105" x="1216" y="-54.5"/>
<use href="#s119" x="860" y="167.5"/>
<use href="#g163" x="1437.5" y="26.3"/>
<use href="#w633" x="1216.4" y="-51.3"/>
<use href="#b255" x="1216.4" y="-51.3"/>
<use href="#sh109" x="1216.4" y="-51.3"/>
<use href="#pin104" x="1215.5" y="-54"/>
<use href="#flt" x="1216" y="-56"/>
<use href="#spr94" x="1191" y="-51.6"/>
<use href="#ndl94" x="1191" y="-51.6"/>
<use href="#cap1091" x="1191" y="-51.6"/>
<use href="#spr98" x="1200" y="-52"/>
<use href="#scr98" x="1202" y="-54"/>
<use href="#cbt" x="1215" y="-54"/>
<use href="#cbb" x="1215" y="-54"/>
<use href="#plug" x="1258.9" y="-1428.6"/>
<use href="#plug" x="1055.4" y="-1391.4"/>
<use href="#w633a" x="1166" y="-64"/>
<use href="#sh97" x="1183.5" y="-55.4"/>
<use href="#d130" x="1216" y="-53"/>
<use href="#s95" x="1214" y="-53"/>
<use href="#g51" x="1206" y="-27.5"/>
<use href="#sol" x="1196" y="-49"/>
<use href="#w276b" x="1196" y="-49"/>
<use href="#ctop" x="-39.5" y="1258"/>
<use href="#p108" x="-41" y="1259.5"/>
<use href="#s231" x="-40.8" y="1260.1"/>
<use href="#g102" x="-40" y="1273"/>
<use href="#n105" x="26" y="1353.4"/>
<use href="#s119" x="-401" y="1468"/>
<use href="#w633" x="-70.25" y="1313.1"/>
<use href="#b255" x="-87.5" y="1292.8"/>
<use href="#sh109" x="-111.3" y="1279.6"/>
<use href="#pin104" x="-19.8" y="1366.7"/>
<use href="#flt" x="-19" y="1365.5"/>
<use href="#spr94" x="-90" y="1489"/>
<use href="#ndl94" x="-90" y="1489"/>
<use href="#cap1091" x="-90.7" y="1489"/>
<use href="#spr98" x="-116" y="1491"/>
<use href="#scr98" x="-122" y="1495"/>
<use href="#cbt" x="-42" y="1398"/>
<use href="#cbb" x="-42" y="1398"/>
<use href="#plug" x="0" y="0"/>
<use href="#w633a" x="-198" y="1485.5"/>
<use href="#sh97" x="-197" y="1488"/>
<use href="#d130c" x="-40" y="1412.3"/>
<use href="#s95" x="-24.3" y="1413.5"/>
<use href="#g51" x="-14" y="1428"/>
<use href="#plug" x="1123.8" y="-442.8"/>
<use href="#plug" x="1125" y="-42.9"/>
<use href="#ctop" x="1350" y="1355"/>
<use href="#p108" x="1349" y="1358.5"/>
<use href="#s231" x="1347.7" y="1359.5"/>
<use href="#g102" x="1349" y="1356.5"/>
<use href="#n105" x="1223" y="1514.8"/>
<use href="#s119" x="942.5" y="1567"/>
<use href="#w633" x="1323" y="1402.4"/>
<use href="#b255" x="1304.4" y="1391.4"/>
<use href="#sh109" x="1290" y="1380"/>
<use href="#pin104" x="1359.2" y="1363.3"/>
<use href="#flt" x="1359" y="1363.5"/>
<use href="#spr94" x="1320.5" y="1449.5"/>
<use href="#ndl94" x="1320.5" y="1449.5"/>
<use href="#cap1091" x="1320.7" y="1451.3"/>
<use href="#spr98" x="1274" y="1450"/>
<use href="#scr98" x="1268" y="1451"/>
<use href="#cbt" x="1352" y="1356"/>
<use href="#cbb" x="1352" y="1356"/>
<use href="#plug" x="1386.4" y="-11.4"/>
<use href="#d130c" x="1356.4" y="1355"/>
<use href="#s95" x="1355" y="1351.5"/>
<use href="#dish" x="0" y="0"/>
<use href="#dia996" x="0" y="0"/>
<use href="#base875" x="0" y="0"/>
<use href="#g163" x="540.3" y="2095.8"/>
<use href="#hexplug" x="0" y="0"/>
<use href="#w276" x="0" y="0"/>
<use href="#hexplug" transform="matrix(1.12,0,0,1.12,1351.5,-286.8)"/>
<use href="#w276" transform="matrix(1.38,0,0,1.17,1286.3,-408.5)"/>
<use href="#sh97a" x="0" y="0"/>
<use href="#w633j" x="0" y="0"/>
<use href="#g51j" x="0" y="0"/>
</g>
<g fill="none" stroke="#000" stroke-width="2">
<path d="M158 26H979V1321H158Z" stroke-width="2"/>
<path d="M258 26V73H158" stroke-width="2"/>
<path d="M640 240H924V484H640Z" stroke-width="2"/>
<path d="M747 240V289H640" stroke-width="2"/>
<path d="M640 512H922V645H640Z" stroke-width="2"/>
<path d="M716 512V559H640" stroke-width="2"/>
<path d="M697 683H803V808H697Z" stroke-width="2"/>
<path d="M780 683V734H697" stroke-width="2"/>
<path d="M741 831H933V1071H741Z" stroke-width="2"/>
<path d="M820 831V878H741" stroke-width="2"/>
<path d="M639 1090H940V1296H639Z" stroke-width="2"/>
<path d="M755.5 1090V1140.5H639" stroke-width="1"/>
<path d="M1419 57H2157V1276H1419Z" stroke-width="2"/>
<path d="M1518 57V104H1419" stroke-width="2"/>
<path d="M1857 190H2140V432H1857Z" stroke-width="2"/>
<path d="M1965 190V238H1857" stroke-width="2"/>
<path d="M1453.5 487.5H1767.5V673.5H1453.5Z" stroke-width="1"/>
<path d="M1567.5 487.5V535.5H1453.5" stroke-width="1"/>
<path d="M1834 461H2116V596H1834Z" stroke-width="2"/>
<path d="M1910 461V508H1834" stroke-width="2"/>
<path d="M1894 624H2009V742H1894Z" stroke-width="2"/>
<path d="M1978 624V674H1894" stroke-width="2"/>
<path d="M1878 772H2132V1011H1878Z" stroke-width="2"/>
<path d="M1939 772V819H1878" stroke-width="2"/>
<path d="M1835 1041H2136V1248H1835Z" stroke-width="2"/>
<path d="M1951.5 1041V1090.5H1835" stroke-width="1"/>
<path d="M94 1361H1298V2687H94Z" stroke-width="2"/>
<path d="M193 1361V1409H94" stroke-width="2"/>
<path d="M553 1576H816V1764H553Z" stroke-width="2"/>
<path d="M645 1576V1623H553" stroke-width="2"/>
<path d="M217.5 1908.5H531.5V2094.5H217.5Z" stroke-width="1"/>
<path d="M332.5 1908.5V1956.5H217.5" stroke-width="1"/>
<path d="M548 2002H804V2136H548Z" stroke-width="2"/>
<path d="M625 2002V2049H548" stroke-width="2"/>
<path d="M594 2181H671V2286H594Z" stroke-width="2"/>
<path d="M655 2181V2228H594" stroke-width="2"/>
<path d="M108 2234H261V2388H108Z" stroke-width="2"/>
<path d="M207 2234V2280H108" stroke-width="2"/>
<path d="M554 2325H740V2558H554Z" stroke-width="2"/>
<path d="M626 2325V2377H554" stroke-width="2"/>
<path d="M1462 1461H2246V2648H1462Z" stroke-width="2"/>
<path d="M1561 1461V1509H1462" stroke-width="2"/>
<path d="M1945 1666H2218V1867H1945Z" stroke-width="2"/>
<path d="M2027 1666V1713H1945" stroke-width="2"/>
<path d="M1595.5 1904.5H1909.5V2090.5H1595.5Z" stroke-width="1"/>
<path d="M1710.5 1904.5V1951.5H1595.5" stroke-width="1"/>
<path d="M1960 1962H2216V2096H1960Z" stroke-width="2"/>
<path d="M2038 1962V2010H1960" stroke-width="2"/>
<path d="M1984 2135H2062V2240H1984Z" stroke-width="2"/>
<path d="M2062 2135V2182H1984" stroke-width="2"/>
<path d="M1478 2223H1631V2378H1478Z" stroke-width="2"/>
<path d="M1577 2223V2271H1478" stroke-width="2"/>
<path d="M1955 2277H2171V2528H1955Z" stroke-width="2"/>
<path d="M2038 2277V2323H1955" stroke-width="2"/>
</g>
<path d="M360 217 L455 196.5" fill="none" stroke="#000" stroke-width="1.6"/>
<path d="M527 331 L618 390.5" fill="none" stroke="#000" stroke-width="2"/>
<path d="M617.5 390.5 L617.5 290.5" fill="none" stroke="#000" stroke-width="2"/>
<path d="M617 286 L686 327" fill="none" stroke="#000" stroke-width="1.6"/>
<path d="M660 626 L627 643.5 L627 814 L570 843" fill="none" stroke="#000" stroke-width="2"/>
<path d="M715 780.5 L657.5 819.5" fill="none" stroke="#000" stroke-width="2"/>
<path d="M656.5 822.5 L656.5 869.5 L566.5 918.5" fill="none" stroke="#000" stroke-width="2"/>
<path d="M751 903 L692.5 869.5 L692.5 1046.5 L630.5 1010.5" fill="none" stroke="#000" stroke-width="2"/>
<path d="M616.3 1002.5 L608.8 997.5" fill="none" stroke="#000" stroke-width="2"/>
<path d="M593.8 989.5 L533.8 953.8" fill="none" stroke="#000" stroke-width="2"/>
<path d="M793 916.5 L823 904" fill="none" stroke="#000" stroke-width="1.6"/>
<path d="M760 919 L773.6 961.8" fill="none" stroke="#000" stroke-width="1.6"/>
<path d="M1576 163 L1670 142.5" fill="none" stroke="#000" stroke-width="1.6"/>
<path d="M1746 279 L1840 340" fill="none" stroke="#000" stroke-width="2"/>
<path d="M1837 340 L1837 240" fill="none" stroke="#000" stroke-width="2"/>
<path d="M1835 236.5 L1904 275" fill="none" stroke="#000" stroke-width="1.6"/>
<path d="M1853.7 576.2 L1821 592.5" fill="none" stroke="#000" stroke-width="2"/>
<path d="M1821.4 600.8 L1821.4 658.7" fill="none" stroke="#000" stroke-width="2"/>
<path d="M1821.4 667.8 L1821.4 679.5" fill="none" stroke="#000" stroke-width="2"/>
<path d="M1821.4 688.6 L1821.4 700.3" fill="none" stroke="#000" stroke-width="2"/>
<path d="M1821.4 710.3 L1821.4 770 L1786.7 789" fill="none" stroke="#000" stroke-width="2"/>
<path d="M1912.8 727.5 L1842.2 767.3 L1842.2 833.3 L1783.4 864.1" fill="none" stroke="#000" stroke-width="2"/>
<path d="M1937.2 847.8 L1860.3 800.8" fill="none" stroke="#000" stroke-width="1.6"/>
<path d="M1859.4 803.5 L1859.4 857" fill="none" stroke="#000" stroke-width="2"/>
<path d="M1859.4 865 L1859.4 877" fill="none" stroke="#000" stroke-width="2"/>
<path d="M1859.4 886 L1859.4 897" fill="none" stroke="#000" stroke-width="2"/>
<path d="M1859.4 905 L1859.4 958.2 L1816 934.7" fill="none" stroke="#000" stroke-width="2"/>
<path d="M1807 930.2 L1800.6 926.5" fill="none" stroke="#000" stroke-width="2"/>
<path d="M1790.7 922 L1750.9 898.5" fill="none" stroke="#000" stroke-width="2"/>
<path d="M319.7 1475.5 L414.3 1456" fill="none" stroke="#000" stroke-width="1.6"/>
<path d="M725.8 2054.6 L719 2087.8" fill="none" stroke="#000" stroke-width="1.6"/>
<path d="M569.8 2115.6 L541.6 2129.7 L541.6 2236.6 L524.8 2244.3" fill="none" stroke="#000" stroke-width="2"/>
<path d="M609.8 2269.3 L520.2 2318.4" fill="none" stroke="#000" stroke-width="1.6"/>
<path d="M575.7 2396.6 L489.3 2351.6" fill="none" stroke="#000" stroke-width="1.6"/>
<path d="M628 2390.3 L597.6 2400.3" fill="none" stroke="#000" stroke-width="1.6"/>
<path d="M1982.2 2077.2 L1955.1 2090.3 L1955.1 2178.9 L1920.2 2198.5" fill="none" stroke="#000" stroke-width="2"/>
<path d="M2005.5 2221.8 L1913.2 2275.4" fill="none" stroke="#000" stroke-width="1.6"/>
<path d="M1969.1 2353.7 L1883.8 2311.7" fill="none" stroke="#000" stroke-width="1.6"/>
<path d="M2035.8 2351.4 L2005 2363" fill="none" stroke="#000" stroke-width="1.6"/>
<filter id="thr" x="0" y="0" width="2325" height="2775" filterUnits="userSpaceOnUse"><feComponentTransfer><feFuncA type="discrete" tableValues="0 1"/></feComponentTransfer></filter>
<mask id="m1" maskUnits="userSpaceOnUse" x="0" y="0" width="2325" height="2775"><rect x="0" y="0" width="2325" height="2775" fill="#fff"/><g fill="#000"><rect x="171.05" y="58.34" width="7.06" height="3.25"/><rect x="181.39" y="58.34" width="6.72" height="3.25"/><rect x="351.05" y="90.33" width="7.06" height="3.25"/><rect x="361.39" y="90.33" width="6.72" height="3.25"/><rect x="591.55" y="103.33" width="7.06" height="3.25"/><rect x="601.89" y="103.33" width="6.72" height="3.25"/><rect x="610.53" y="103.33" width="7.06" height="3.25"/><rect x="620.87" y="103.33" width="6.72" height="3.25"/><rect x="437.62" y="162.34" width="7.06" height="3.25"/><rect x="447.96" y="162.34" width="6.72" height="3.25"/><rect x="283.05" y="227.34" width="7.06" height="3.25"/><rect x="293.39" y="227.34" width="6.72" height="3.25"/><rect x="659.05" y="272.83" width="7.06" height="3.25"/><rect x="669.39" y="272.83" width="6.72" height="3.25"/><rect x="298.05" y="405.83" width="7.06" height="3.25"/><rect x="308.39" y="405.83" width="6.72" height="3.25"/><rect x="253.05" y="477.33" width="7.06" height="3.25"/><rect x="263.39" y="477.33" width="6.72" height="3.25"/><rect x="828.55" y="581.84" width="7.06" height="3.25"/><rect x="838.89" y="581.84" width="6.72" height="3.25"/><rect x="885.49" y="581.84" width="7.06" height="3.25"/><rect x="895.83" y="581.84" width="6.72" height="3.25"/><rect x="323.05" y="584.34" width="7.06" height="3.25"/><rect x="333.39" y="584.34" width="6.72" height="3.25"/><rect x="249.05" y="650.34" width="7.06" height="3.25"/><rect x="259.39" y="650.34" width="6.72" height="3.25"/><rect x="47.05" y="754.84" width="7.06" height="3.25"/><rect x="57.39" y="754.84" width="6.72" height="3.25"/><rect x="66.03" y="754.84" width="7.06" height="3.25"/><rect x="76.37" y="754.84" width="6.72" height="3.25"/><rect x="231.05" y="800.84" width="7.06" height="3.25"/><rect x="241.39" y="800.84" width="6.72" height="3.25"/><rect x="250.03" y="800.84" width="7.06" height="3.25"/><rect x="260.37" y="800.84" width="6.72" height="3.25"/><rect x="358.05" y="1053.34" width="7.06" height="3.25"/><rect x="368.39" y="1053.34" width="6.72" height="3.25"/><rect x="347.44" y="1167.34" width="7.06" height="3.25"/><rect x="357.78" y="1167.34" width="6.72" height="3.25"/><rect x="1427.45" y="90.33" width="7.06" height="3.25"/><rect x="1437.79" y="90.33" width="6.72" height="3.25"/><rect x="1654.22" y="107.33" width="7.06" height="3.25"/><rect x="1664.56" y="107.33" width="6.72" height="3.25"/><rect x="1789.25" y="116.33" width="7.06" height="3.25"/><rect x="1799.59" y="116.33" width="6.72" height="3.25"/><rect x="1500.05" y="173.34" width="7.06" height="3.25"/><rect x="1510.39" y="173.34" width="6.72" height="3.25"/><rect x="1877.65" y="221.84" width="7.06" height="3.25"/><rect x="1887.99" y="221.84" width="6.72" height="3.25"/><rect x="1449.25" y="274.33" width="7.06" height="3.25"/><rect x="1459.59" y="274.33" width="6.72" height="3.25"/><rect x="1468.23" y="274.33" width="7.06" height="3.25"/><rect x="1478.57" y="274.33" width="6.72" height="3.25"/><rect x="1515.25" y="352.33" width="7.06" height="3.25"/><rect x="1525.59" y="352.33" width="6.72" height="3.25"/><rect x="1470.05" y="422.63" width="7.06" height="3.25"/><rect x="1480.39" y="422.63" width="6.72" height="3.25"/><rect x="1470.55" y="520.84" width="7.06" height="3.25"/><rect x="1480.89" y="520.84" width="6.72" height="3.25"/><rect x="2021.75" y="531.84" width="7.06" height="3.25"/><rect x="2032.09" y="531.84" width="6.72" height="3.25"/><rect x="2078.69" y="531.84" width="7.06" height="3.25"/><rect x="2089.03" y="531.84" width="6.72" height="3.25"/><rect x="1464.55" y="597.34" width="7.06" height="3.25"/><rect x="1474.89" y="597.34" width="6.72" height="3.25"/><rect x="1247.55" y="774.84" width="7.06" height="3.25"/><rect x="1257.89" y="774.84" width="6.72" height="3.25"/><rect x="1266.53" y="774.84" width="7.06" height="3.25"/><rect x="1276.87" y="774.84" width="6.72" height="3.25"/><rect x="1446.05" y="747.54" width="7.06" height="3.25"/><rect x="1456.39" y="747.54" width="6.72" height="3.25"/><rect x="1465.03" y="747.54" width="7.06" height="3.25"/><rect x="1475.37" y="747.54" width="6.72" height="3.25"/><rect x="1888.75" y="804.94" width="7.06" height="3.25"/><rect x="1899.09" y="804.94" width="6.72" height="3.25"/><rect x="1926.71" y="804.94" width="7.06" height="3.25"/><rect x="1937.05" y="804.94" width="6.72" height="3.25"/><rect x="1550.55" y="998.34" width="7.06" height="3.25"/><rect x="1560.89" y="998.34" width="6.72" height="3.25"/><rect x="1559.94" y="1137.54" width="7.06" height="3.25"/><rect x="1570.28" y="1137.54" width="6.72" height="3.25"/><rect x="102.15" y="1396.04" width="7.06" height="3.25"/><rect x="112.49" y="1396.04" width="6.72" height="3.25"/><rect x="397.32" y="1421.04" width="7.06" height="3.25"/><rect x="407.66" y="1421.04" width="6.72" height="3.25"/><rect x="242.65" y="1486.54" width="7.06" height="3.25"/><rect x="252.99" y="1486.54" width="6.72" height="3.25"/><rect x="188.55" y="1574.74" width="7.06" height="3.25"/><rect x="198.89" y="1574.74" width="6.72" height="3.25"/><rect x="207.53" y="1574.74" width="7.06" height="3.25"/><rect x="217.87" y="1574.74" width="6.72" height="3.25"/><rect x="563.75" y="1610.24" width="7.06" height="3.25"/><rect x="574.09" y="1610.24" width="6.72" height="3.25"/><rect x="261.35" y="1695.74" width="7.06" height="3.25"/><rect x="271.69" y="1695.74" width="6.72" height="3.25"/><rect x="283.65" y="1839.93" width="7.06" height="3.25"/><rect x="293.99" y="1839.93" width="6.72" height="3.25"/><rect x="231.25" y="1942.24" width="7.06" height="3.25"/><rect x="241.59" y="1942.24" width="6.72" height="3.25"/><rect x="229.55" y="2018.34" width="7.06" height="3.25"/><rect x="239.89" y="2018.34" width="6.72" height="3.25"/><rect x="679.25" y="2117.03" width="7.06" height="3.25"/><rect x="689.59" y="2117.03" width="6.72" height="3.25"/><rect x="736.19" y="2117.03" width="7.06" height="3.25"/><rect x="746.53" y="2117.03" width="6.72" height="3.25"/><rect x="189.45" y="2157.43" width="7.06" height="3.25"/><rect x="199.79" y="2157.43" width="6.72" height="3.25"/><rect x="208.43" y="2157.43" width="7.06" height="3.25"/><rect x="218.77" y="2157.43" width="6.72" height="3.25"/><rect x="566.95" y="2358.03" width="7.06" height="3.25"/><rect x="577.29" y="2358.03" width="6.72" height="3.25"/><rect x="604.91" y="2358.03" width="7.06" height="3.25"/><rect x="615.25" y="2358.03" width="6.72" height="3.25"/><rect x="288.15" y="2447.64" width="7.06" height="3.25"/><rect x="298.49" y="2447.64" width="6.72" height="3.25"/><rect x="327.74" y="2570.43" width="7.06" height="3.25"/><rect x="338.08" y="2570.43" width="6.72" height="3.25"/><rect x="894.15" y="2189.43" width="7.06" height="3.25"/><rect x="904.49" y="2189.43" width="6.72" height="3.25"/><rect x="1318.35" y="1735.84" width="7.06" height="3.25"/><rect x="1328.69" y="1735.84" width="6.72" height="3.25"/><rect x="1337.33" y="1735.84" width="7.06" height="3.25"/><rect x="1347.67" y="1735.84" width="6.72" height="3.25"/><rect x="1337.05" y="2139.74" width="7.06" height="3.25"/><rect x="1347.39" y="2139.74" width="6.72" height="3.25"/><rect x="1356.03" y="2139.74" width="7.06" height="3.25"/><rect x="1366.37" y="2139.74" width="6.72" height="3.25"/><rect x="1473.95" y="1493.24" width="7.06" height="3.25"/><rect x="1484.29" y="1493.24" width="6.72" height="3.25"/><rect x="1793.72" y="1501.63" width="7.06" height="3.25"/><rect x="1804.06" y="1501.63" width="6.72" height="3.25"/><rect x="1675.85" y="1552.04" width="7.06" height="3.25"/><rect x="1686.19" y="1552.04" width="6.72" height="3.25"/><rect x="1529.85" y="1675.13" width="7.06" height="3.25"/><rect x="1540.19" y="1675.13" width="6.72" height="3.25"/><rect x="1548.83" y="1675.13" width="7.06" height="3.25"/><rect x="1559.17" y="1675.13" width="6.72" height="3.25"/><rect x="1949.95" y="1699.34" width="7.06" height="3.25"/><rect x="1960.29" y="1699.34" width="6.72" height="3.25"/><rect x="1642.25" y="1825.63" width="7.06" height="3.25"/><rect x="1652.59" y="1825.63" width="6.72" height="3.25"/><rect x="1609.65" y="1938.54" width="7.06" height="3.25"/><rect x="1619.99" y="1938.54" width="6.72" height="3.25"/><rect x="1482.35" y="2000.04" width="7.06" height="3.25"/><rect x="1492.69" y="2000.04" width="6.72" height="3.25"/><rect x="1608.25" y="2015.43" width="7.06" height="3.25"/><rect x="1618.59" y="2015.43" width="6.72" height="3.25"/><rect x="2121.05" y="2048.93" width="7.06" height="3.25"/><rect x="2131.39" y="2048.93" width="6.72" height="3.25"/><rect x="2177.99" y="2048.93" width="7.06" height="3.25"/><rect x="2188.33" y="2048.93" width="6.72" height="3.25"/><rect x="1578.05" y="2158.53" width="7.06" height="3.25"/><rect x="1588.39" y="2158.53" width="6.72" height="3.25"/><rect x="1597.03" y="2158.53" width="7.06" height="3.25"/><rect x="1607.37" y="2158.53" width="6.72" height="3.25"/><rect x="1686.55" y="2405.53" width="7.06" height="3.25"/><rect x="1696.89" y="2405.53" width="6.72" height="3.25"/><rect x="1730.74" y="2578.03" width="7.06" height="3.25"/><rect x="1741.08" y="2578.03" width="6.72" height="3.25"/></g></mask>
<g mask="url(#m1)"><g filter="url(#thr)">
<text transform="translate(169.69,61.00) scale(1.05,1)">125F</text>
<text transform="translate(349.69,93.00) scale(1.05,1)">163B</text>
<text transform="translate(590.19,106.00) scale(1.05,1)">119</text>
<text transform="translate(398.29,165.00) scale(1.05,1)">231</text>
<text transform="translate(281.69,230.00) scale(1.05,1)">108B</text>
<text transform="translate(657.69,275.50) scale(1.05,1)">109B</text>
<text transform="translate(644.29,371.00) scale(1.05,1)">633</text>
<text transform="translate(751.79,341.00) scale(1.05,1)">255</text>
<text transform="translate(296.69,408.50) scale(1.05,1)">102</text>
<text transform="translate(251.69,480.00) scale(1.05,1)">105</text>
<text transform="translate(649.39,546.50) scale(1.05,1)">94C</text>
<text transform="translate(827.19,584.50) scale(1.05,1)">1091A</text>
<text transform="translate(321.69,587.00) scale(1.05,1)">133A</text>
<text transform="translate(247.69,653.00) scale(1.05,1)">104</text>
<text transform="translate(707.39,721.00) scale(1.05,1)">98A</text>
<text transform="translate(45.69,757.50) scale(1.05,1)">118F</text>
<text transform="translate(229.69,803.50) scale(1.05,1)">117F</text>
<text transform="translate(751.39,868.00) scale(1.05,1)">97B</text>
<text transform="translate(821.29,901.00) scale(1.05,1)">633A</text>
<text transform="translate(759.29,990.00) scale(1.05,1)">633</text>
<text transform="translate(356.69,1056.00) scale(1.05,1)">130</text>
<text transform="translate(396.89,1101.50) scale(1.05,1)">95</text>
<text transform="translate(327.09,1170.00) scale(1.05,1)">51</text>
<text transform="translate(659.39,1129.00) scale(1.05,1)">947A</text>
<text transform="translate(768.29,1281.00) scale(1.05,1)">276B</text>
<text transform="translate(1426.09,93.00) scale(1.05,1)">125G</text>
<text transform="translate(1614.89,110.00) scale(1.05,1)">231</text>
<text transform="translate(1787.89,119.00) scale(1.05,1)">163B</text>
<text transform="translate(1498.69,176.00) scale(1.05,1)">108B</text>
<text transform="translate(1876.29,224.50) scale(1.05,1)">109B</text>
<text transform="translate(1447.89,277.00) scale(1.05,1)">119</text>
<text transform="translate(1968.49,289.40) scale(1.05,1)">255</text>
<text transform="translate(1861.59,320.00) scale(1.05,1)">633</text>
<text transform="translate(1513.89,355.00) scale(1.05,1)">102</text>
<text transform="translate(1468.69,425.30) scale(1.05,1)">105</text>
<text transform="translate(1844.19,495.20) scale(1.05,1)">94B</text>
<text transform="translate(1469.19,523.50) scale(1.05,1)">133B</text>
<text transform="translate(2020.39,534.50) scale(1.05,1)">1091A</text>
<text transform="translate(1463.19,600.00) scale(1.05,1)">104</text>
<text transform="translate(1916.39,660.50) scale(1.05,1)">98</text>
<text transform="translate(1246.19,777.50) scale(1.05,1)">118C</text>
<text transform="translate(1444.69,750.20) scale(1.05,1)">117A</text>
<text transform="translate(1887.39,807.60) scale(1.05,1)">131</text>
<text transform="translate(1958.29,843.40) scale(1.05,1)">633A</text>
<text transform="translate(1549.19,1001.00) scale(1.05,1)">130C</text>
<text transform="translate(1612.39,1047.50) scale(1.05,1)">95</text>
<text transform="translate(1539.59,1140.20) scale(1.05,1)">51</text>
<text transform="translate(1853.89,1079.30) scale(1.05,1)">947A</text>
<text transform="translate(1964.09,1232.30) scale(1.05,1)">276B</text>
<text transform="translate(100.79,1398.70) scale(1.05,1)">125H</text>
<text transform="translate(357.99,1423.70) scale(1.05,1)">231</text>
<text transform="translate(241.29,1489.20) scale(1.05,1)">108B</text>
<text transform="translate(187.19,1577.40) scale(1.05,1)">119</text>
<text transform="translate(562.39,1612.90) scale(1.05,1)">109B</text>
<text transform="translate(674.09,1642.40) scale(1.05,1)">255</text>
<text transform="translate(570.39,1682.50) scale(1.05,1)">633</text>
<text transform="translate(259.99,1698.40) scale(1.05,1)">102</text>
<text transform="translate(282.29,1842.60) scale(1.05,1)">105</text>
<text transform="translate(745.69,1881.20) scale(1.05,1)">875C</text>
<text transform="translate(229.89,1944.90) scale(1.05,1)">133B</text>
<text transform="translate(228.19,2021.00) scale(1.05,1)">104</text>
<text transform="translate(559.09,2036.40) scale(1.05,1)">94B</text>
<text transform="translate(677.89,2119.70) scale(1.05,1)">1091A</text>
<text transform="translate(188.09,2160.10) scale(1.05,1)">117A</text>
<text transform="translate(602.79,2217.00) scale(1.05,1)">98</text>
<text transform="translate(117.09,2268.80) scale(1.05,1)">955A</text>
<text transform="translate(147.39,2380.30) scale(1.05,1)">276</text>
<text transform="translate(565.59,2360.70) scale(1.05,1)">131</text>
<text transform="translate(633.19,2401.20) scale(1.05,1)">633A</text>
<text transform="translate(286.79,2450.30) scale(1.05,1)">130C</text>
<text transform="translate(353.59,2517.60) scale(1.05,1)">95</text>
<text transform="translate(307.39,2573.10) scale(1.05,1)">51</text>
<text transform="translate(843.09,1552.20) scale(1.05,1)">643</text>
<text transform="translate(861.09,1729.30) scale(1.05,1)">996B</text>
<text transform="translate(892.79,2192.10) scale(1.05,1)">163C</text>
<text transform="translate(1316.99,1738.50) scale(1.05,1)">118C</text>
<text transform="translate(1335.69,2142.40) scale(1.05,1)">118C</text>
<text transform="translate(1472.59,1495.90) scale(1.05,1)">125J</text>
<text transform="translate(1754.39,1504.30) scale(1.05,1)">231</text>
<text transform="translate(1674.49,1554.70) scale(1.05,1)">108B</text>
<text transform="translate(1528.49,1677.80) scale(1.05,1)">119</text>
<text transform="translate(1948.59,1702.00) scale(1.05,1)">109B</text>
<text transform="translate(2066.69,1733.20) scale(1.05,1)">255</text>
<text transform="translate(1955.79,1772.90) scale(1.05,1)">633</text>
<text transform="translate(1640.89,1828.30) scale(1.05,1)">102</text>
<text transform="translate(1608.29,1941.20) scale(1.05,1)">133B</text>
<text transform="translate(1480.99,2002.70) scale(1.05,1)">105</text>
<text transform="translate(1606.89,2018.10) scale(1.05,1)">104</text>
<text transform="translate(1972.19,1997.10) scale(1.05,1)">94B</text>
<text transform="translate(2119.69,2051.60) scale(1.05,1)">1091A</text>
<text transform="translate(1576.69,2161.20) scale(1.05,1)">117A</text>
<text transform="translate(1989.39,2172.80) scale(1.05,1)">98A</text>
<text transform="translate(1486.39,2258.10) scale(1.05,1)">955A</text>
<text transform="translate(1973.59,2312.70) scale(1.05,1)">97A</text>
<text transform="translate(2048.09,2358.40) scale(1.05,1)">633A</text>
<text transform="translate(1516.59,2370.00) scale(1.05,1)">276</text>
<text transform="translate(1685.19,2408.20) scale(1.05,1)">130C</text>
<text transform="translate(1746.09,2450.70) scale(1.05,1)">95</text>
<text transform="translate(1710.39,2580.70) scale(1.05,1)">51</text>
</g>
</g>
</svg></body></html>
